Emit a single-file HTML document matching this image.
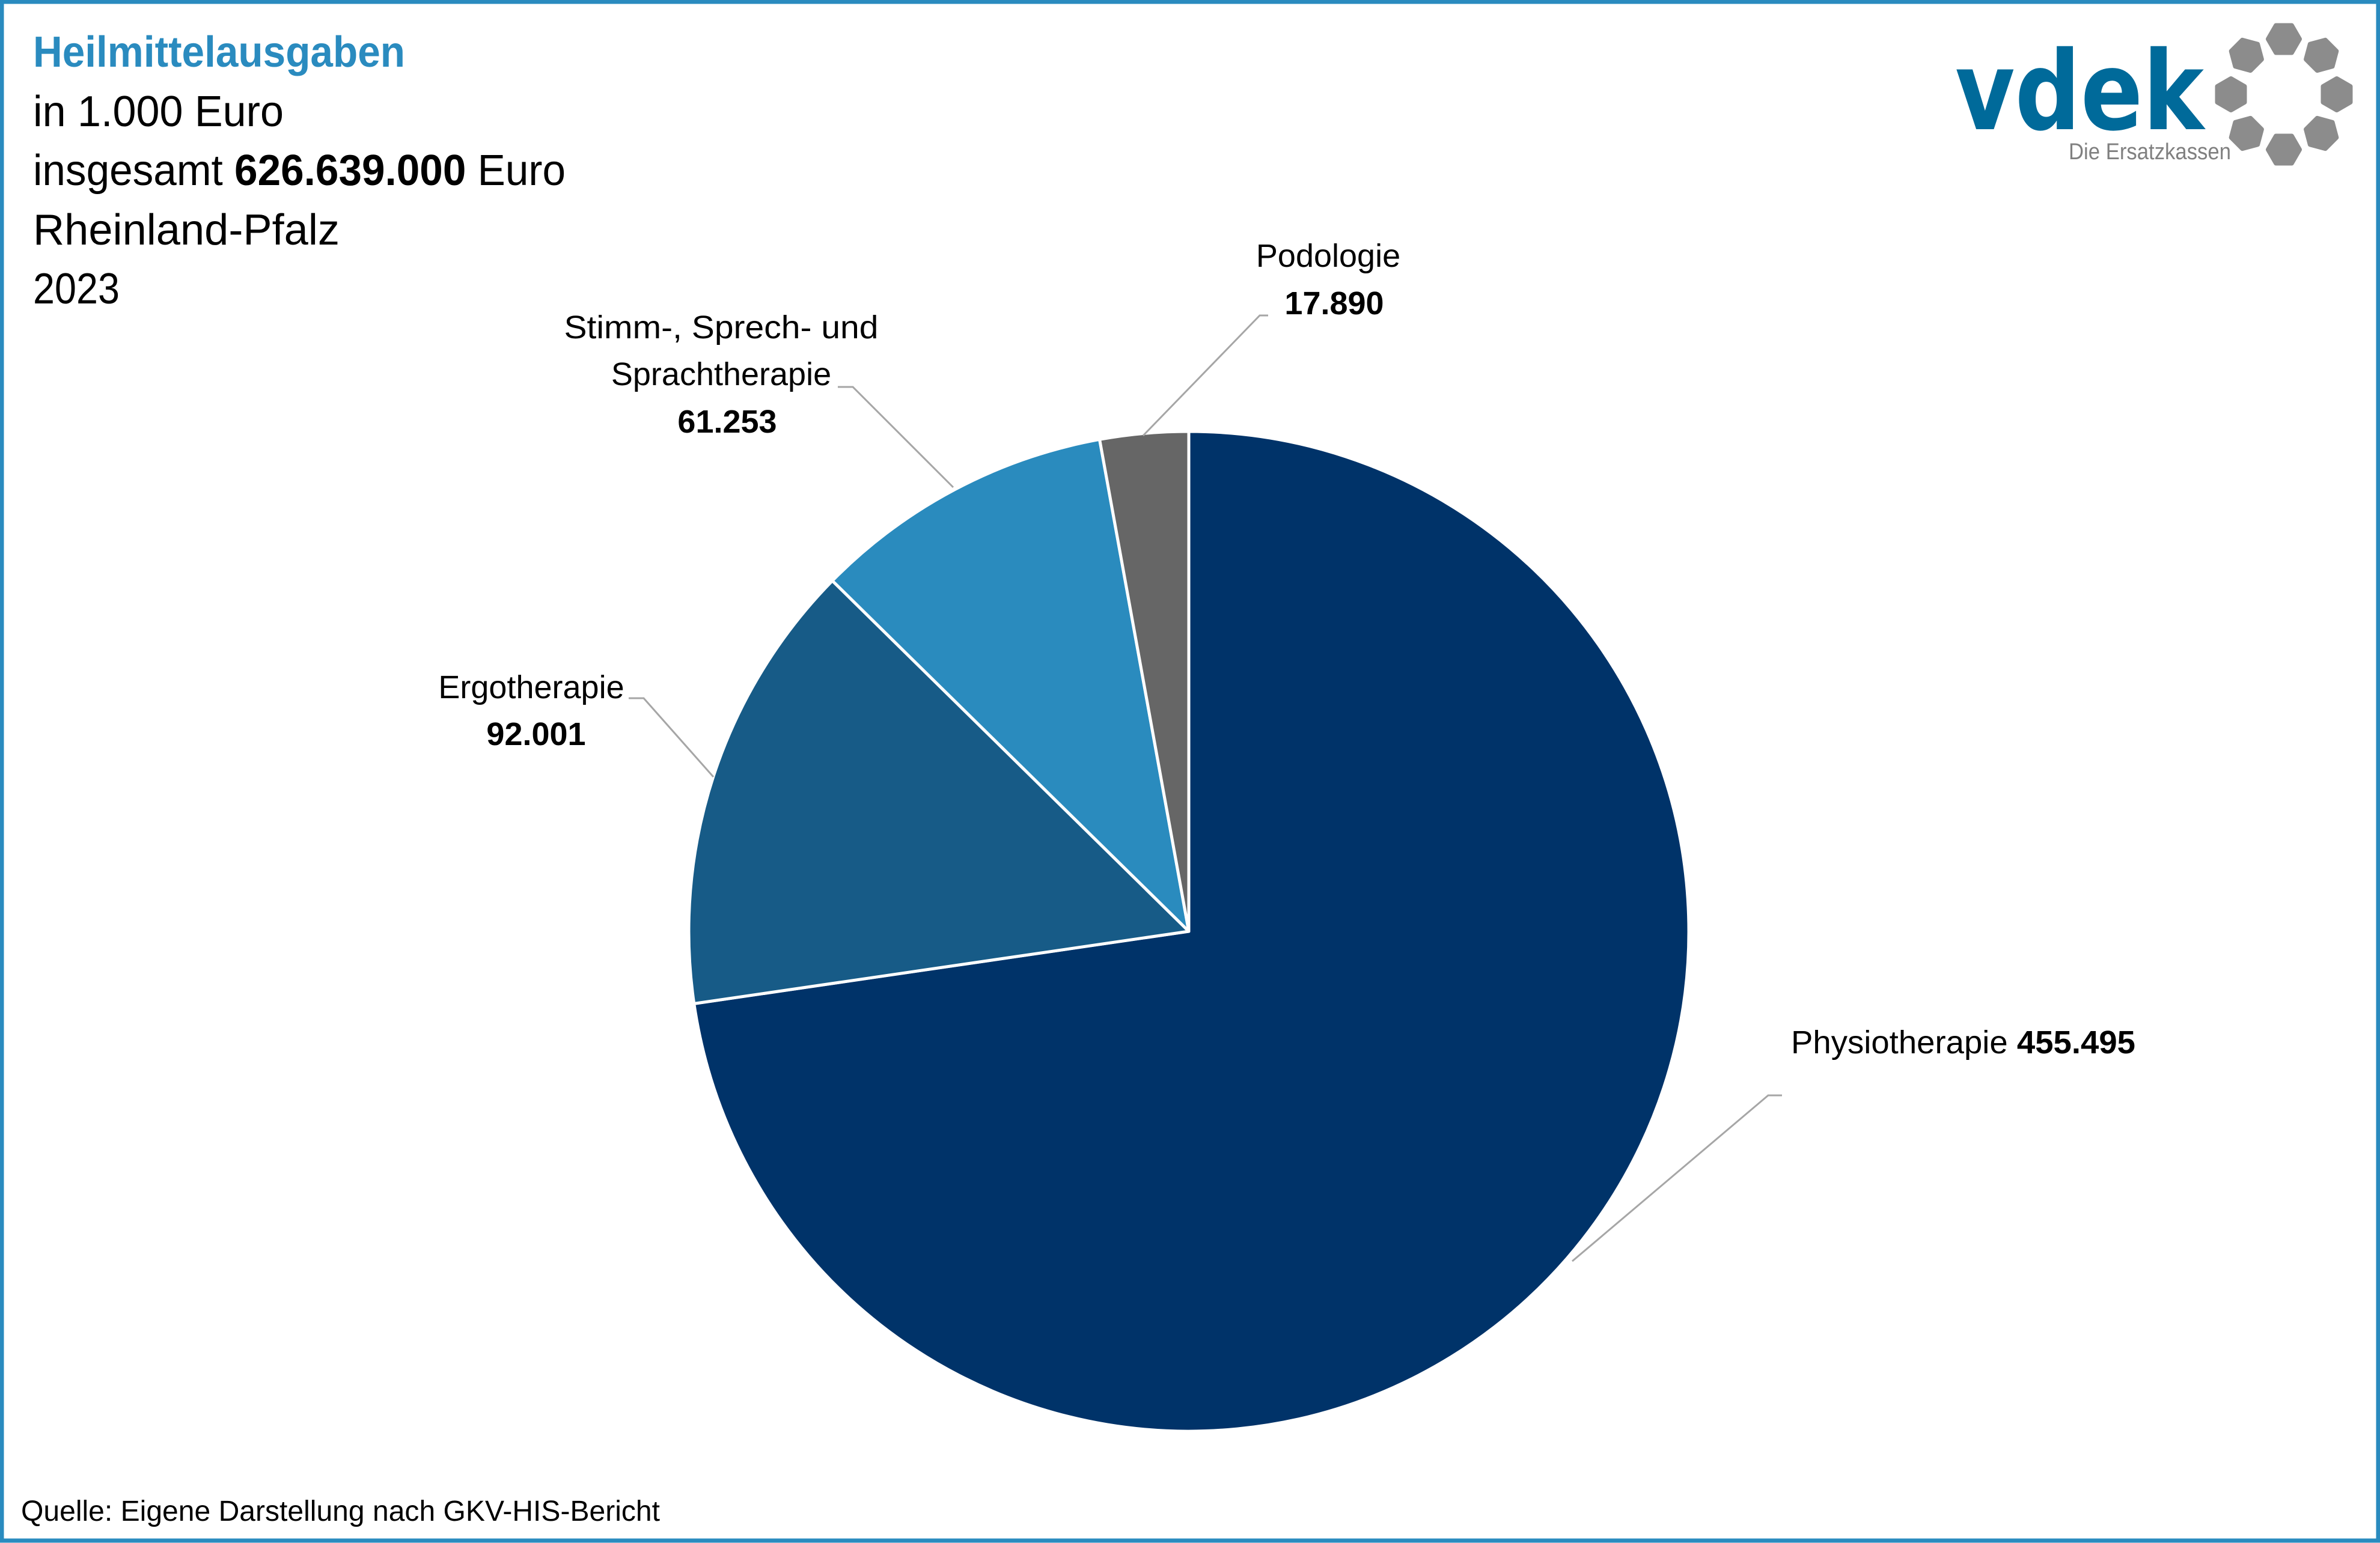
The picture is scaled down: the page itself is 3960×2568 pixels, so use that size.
<!DOCTYPE html>
<html><head><meta charset="utf-8"><style>
html,body{margin:0;padding:0;background:#fff}
svg{display:block}
text{font-family:"Liberation Sans Narrow","Liberation Sans",sans-serif}
</style></head><body>
<svg id="chart" width="3960" height="2568" viewBox="0 0 3960 2568" xmlns="http://www.w3.org/2000/svg">
<rect x="3" y="3" width="3954" height="2561" fill="#fff" stroke="#2a8bbf" stroke-width="7"/>
<g>
<text x="55" y="111" font-size="72" font-weight="bold" fill="#2a8bbf" textLength="619" lengthAdjust="spacingAndGlyphs">Heilmittelausgaben</text>
<text x="55" y="210" font-size="72" fill="#000" textLength="417" lengthAdjust="spacingAndGlyphs">in 1.000 Euro</text>
<text x="55" y="308" font-size="72" fill="#000" textLength="886" lengthAdjust="spacingAndGlyphs">insgesamt <tspan font-weight="bold">626.639.000</tspan> Euro</text>
<text x="55" y="407" font-size="72" fill="#000" textLength="510" lengthAdjust="spacingAndGlyphs">Rheinland-Pfalz</text>
<text x="55" y="505" font-size="72" fill="#000" textLength="144" lengthAdjust="spacingAndGlyphs">2023</text>
</g>
<g>
<text x="3253" y="215" font-size="182" font-weight="bold" fill="#006a9a" textLength="414" lengthAdjust="spacingAndGlyphs" style="font-family:'DejaVu Sans','Liberation Sans',sans-serif">vdek</text>
<text x="3442" y="265" font-size="38" fill="#808080" textLength="270" lengthAdjust="spacingAndGlyphs">Die Ersatzkassen</text>
<g id="ring"></g>
</g>
<g id="pie"></g>
<g id="labels">
<text x="2210" y="444" font-size="54" text-anchor="middle">Podologie</text>
<text x="2220" y="523" font-size="54" font-weight="bold" text-anchor="middle">17.890</text>
<text x="1200" y="563" font-size="54" text-anchor="middle" textLength="523" lengthAdjust="spacingAndGlyphs">Stimm-, Sprech- und</text>
<text x="1200" y="641" font-size="54" text-anchor="middle">Sprachtherapie</text>
<text x="1210" y="720" font-size="54" font-weight="bold" text-anchor="middle">61.253</text>
<text x="884" y="1162" font-size="54" text-anchor="middle">Ergotherapie</text>
<text x="892" y="1240" font-size="54" font-weight="bold" text-anchor="middle">92.001</text>
<text x="2980" y="1753" font-size="54" textLength="573" lengthAdjust="spacingAndGlyphs">Physiotherapie <tspan font-weight="bold">455.495</tspan></text>
</g>
<g fill="none" stroke="#a6a6a6" stroke-width="3">
<polyline points="1902,725 2096,525 2110,525"/>
<polyline points="1586,811 1419,644 1394,644"/>
<polyline points="1187,1293 1071,1162 1046,1162"/>
<polyline points="2616,2099 2942,1823 2965,1823"/>
</g>
<text x="35" y="2531" font-size="48" textLength="1063" lengthAdjust="spacingAndGlyphs">Quelle: Eigene Darstellung nach GKV-HIS-Bericht</text>
</svg>
<script>
const categories = ["Physiotherapie","Ergotherapie","Stimm-, Sprech- und Sprachtherapie","Podologie"];
const values = [455495, 92001, 61253, 17890];
const colors = ["#003369","#175b87","#2a8bbe","#666666"];
const NS="http://www.w3.org/2000/svg";
const cx=1978, cy=1550, r=832;
const total=values.reduce((a,b)=>a+b,0);
const pie=document.getElementById('pie');
let a0=0;
function pt(a){return [cx+r*Math.sin(a), cy-r*Math.cos(a)];}
values.forEach((v,i)=>{
  const a1=a0+v/total*2*Math.PI;
  const p0=pt(a0), p1=pt(a1);
  const large=(a1-a0)>Math.PI?1:0;
  const path=document.createElementNS(NS,'path');
  path.setAttribute('d',`M${cx},${cy} L${p0[0]},${p0[1]} A${r},${r} 0 ${large} 1 ${p1[0]},${p1[1]} Z`);
  path.setAttribute('fill',colors[i]);
  path.setAttribute('stroke','#fff');
  path.setAttribute('stroke-width','5');
  path.setAttribute('stroke-linejoin','round');
  
  
  pie.appendChild(path);
  a0=a1;
});
const ring=document.getElementById('ring');
for(let k=0;k<8;k++){
  const a=k*Math.PI/4;
  const bx=3800+88*Math.sin(a), by=157-92*Math.cos(a);
  let pts=[];
  for(let j=0;j<6;j++){const b=a+j*Math.PI/3+Math.PI/6;pts.push((bx+26*Math.sin(b)).toFixed(1)+','+(by-26*Math.cos(b)).toFixed(1));}
  const poly=document.createElementNS(NS,'polygon');
  poly.setAttribute('points',pts.join(' '));
  poly.setAttribute('fill','#8c8c8c');
  poly.setAttribute('stroke','#8c8c8c');
  poly.setAttribute('stroke-width','8');
  poly.setAttribute('stroke-linejoin','round');
  
  
  ring.appendChild(poly);
}
</script>
</body></html>
